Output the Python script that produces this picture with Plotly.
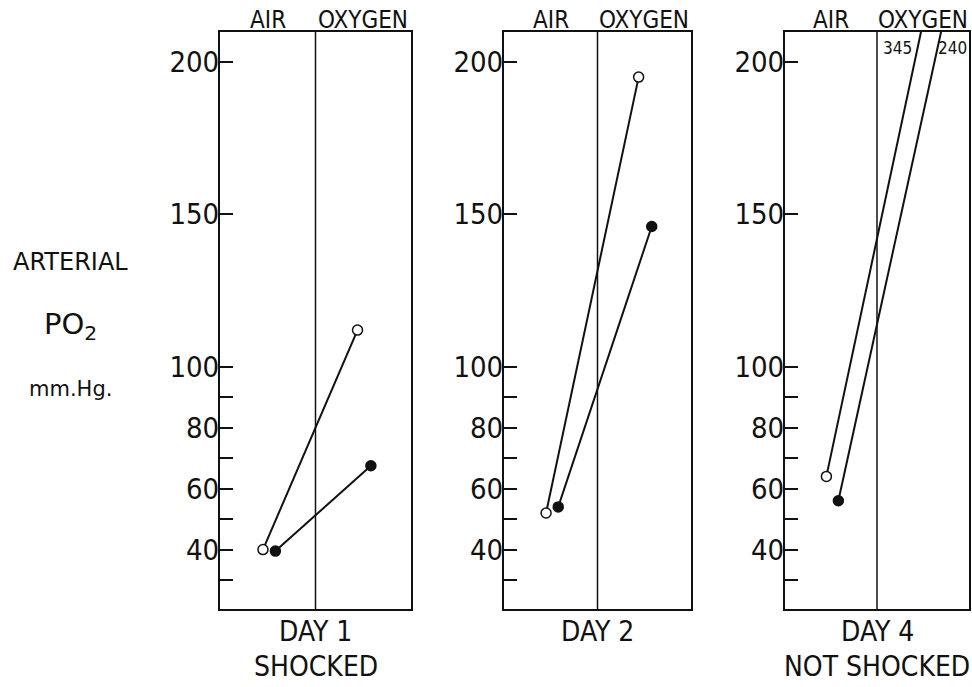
import plotly.graph_objects as go

# ---- data -------------------------------------------------------------
DAYS = ["DAY 1", "DAY 2", "DAY 4"]
STATES = ["SHOCKED", "", "NOT SHOCKED"]
CONDITIONS = ["AIR", "OXYGEN"]

# arterial PO2 (mm Hg): open-circle subject and filled-circle subject
OPEN_AIR = [40, 52, 64]
OPEN_OXYGEN = [112, 195, 345]
FILLED_AIR = [39.5, 54, 56]
FILLED_OXYGEN = [67.5, 146, 240]

TICK_VALUES = [40, 60, 80, 100, 150, 200]
TICK_LABELS = ["40", "60", "80", "100", "150", "200"]
MINOR_TICK_VALUES = [30, 50, 70, 90]

# ---- layout constants -------------------------------------------------
W, H = 972, 687
Y_RANGE = [20.5, 209.8]
X_RANGE = [0, 2]           # 0-1 = air half, 1-2 = oxygen half
X_OPEN = (0.45, 1.44)
X_FILLED = (0.58, 1.58)
# where off-scale lines leave the top of the frame (x units)
EXIT_OPEN = 1.478
EXIT_FILLED = 1.696

PANEL_PX = [(220, 411), (504, 691), (785, 969)]
TOP_PX, BOTTOM_PX = 32, 609

FONT = "DejaVu Sans Condensed, DejaVu Sans, sans-serif"
WIDE_FONT = "DejaVu Sans, sans-serif"
INK = "#111111"


def px_x(p):
    return p / W


def px_y(p):
    return 1 - p / H


def end_x(x_air, x_exit, v_air, v_oxy):
    """x of the oxygen point; off-scale values keep the drawn exit angle."""
    if v_oxy <= Y_RANGE[1]:
        return None
    return x_air + (x_exit - x_air) * (v_oxy - v_air) / (Y_RANGE[1] - v_air)


fig = go.Figure()
layout = dict(
    width=W, height=H,
    margin=dict(l=0, r=0, t=0, b=0),
    paper_bgcolor="white", plot_bgcolor="white",
    showlegend=False,
    font=dict(family=FONT, color=INK),
)
annotations = []
shapes = []

for i, day in enumerate(DAYS):
    n = "" if i == 0 else str(i + 1)
    xa, ya = "x" + n, "y" + n
    left, right = PANEL_PX[i]

    layout["xaxis" + n] = dict(
        domain=[px_x(left), px_x(right)], range=X_RANGE, anchor=ya,
        showticklabels=False, ticks="", showgrid=False, zeroline=False,
        showline=True, mirror=True, linecolor=INK, linewidth=2,
    )
    layout["yaxis" + n] = dict(
        domain=[px_y(BOTTOM_PX), px_y(TOP_PX)], range=Y_RANGE, anchor=xa,
        tickvals=TICK_VALUES, ticktext=TICK_LABELS,
        ticks="inside", ticklen=13, tickwidth=2, tickcolor=INK,
        tickfont=dict(family=FONT, size=29, color=INK),
        ticklabelstandoff=-7,
        minor=dict(tickvals=MINOR_TICK_VALUES, ticks="inside", ticklen=13,
                   tickwidth=2, tickcolor=INK, showgrid=False),
        showgrid=False, zeroline=False,
        showline=True, mirror=True, linecolor=INK, linewidth=2,
    )

    # air / oxygen divider
    shapes.append(dict(type="line", xref=xa, yref=ya + " domain",
                       x0=1, x1=1, y0=0, y1=1,
                       line=dict(color=INK, width=1.5)))

    for air, oxy, xs, exit_x, fill in [
        (OPEN_AIR[i], OPEN_OXYGEN[i], X_OPEN, EXIT_OPEN, "white"),
        (FILLED_AIR[i], FILLED_OXYGEN[i], X_FILLED, EXIT_FILLED, INK),
    ]:
        xo = end_x(xs[0], exit_x, air, oxy)
        x_oxy = xs[1] if xo is None else xo
        fig.add_trace(go.Scatter(
            x=[xs[0], x_oxy], y=[air, oxy], xaxis=xa, yaxis=ya,
            mode="lines+markers",
            line=dict(color=INK, width=2),
            marker=dict(size=10, color=fill, line=dict(color=INK, width=1.5)),
            cliponaxis=True, hoverinfo="skip",
        ))
        if xo is not None:
            # value written inside the frame next to the off-scale line
            lab_x = exit_x - 0.25 if fill == "white" else exit_x + 0.13
            annotations.append(dict(
                text=f"{oxy:g}", x=lab_x, xref=xa, y=px_y(48), yref="paper",
                showarrow=False, font=dict(family=FONT, size=17, color=INK),
                xanchor="center", yanchor="middle",
            ))

    # column headers
    for cx, cond in zip([0.5, 1.5], CONDITIONS):
        annotations.append(dict(
            text=cond, x=cx, xref=xa, y=px_y(20), yref="paper",
            showarrow=False, font=dict(family=FONT, size=24, color=INK),
            xanchor="center", yanchor="middle",
        ))

    # panel captions
    annotations.append(dict(
        text=day, x=1, xref=xa, y=px_y(631), yref="paper",
        showarrow=False, font=dict(family=FONT, size=28, color=INK),
        xanchor="center", yanchor="middle",
    ))
    if STATES[i]:
        annotations.append(dict(
            text=STATES[i], x=1, xref=xa, y=px_y(666), yref="paper",
            showarrow=False, font=dict(family=FONT, size=28, color=INK),
            xanchor="center", yanchor="middle",
        ))

# y-axis title block
for txt, ypx, size in [("ARTERIAL", 262, 24),
                       ("PO<sub>2</sub>", 326, 29),
                       ("mm.Hg.", 389, 21)]:
    annotations.append(dict(
        text=txt, x=px_x(70), xref="paper", y=px_y(ypx), yref="paper",
        showarrow=False, font=dict(family=WIDE_FONT, size=size, color=INK),
        xanchor="center", yanchor="middle",
    ))

layout["annotations"] = annotations
layout["shapes"] = shapes
fig.update_layout(**layout)

fig.write_html("out.html")
